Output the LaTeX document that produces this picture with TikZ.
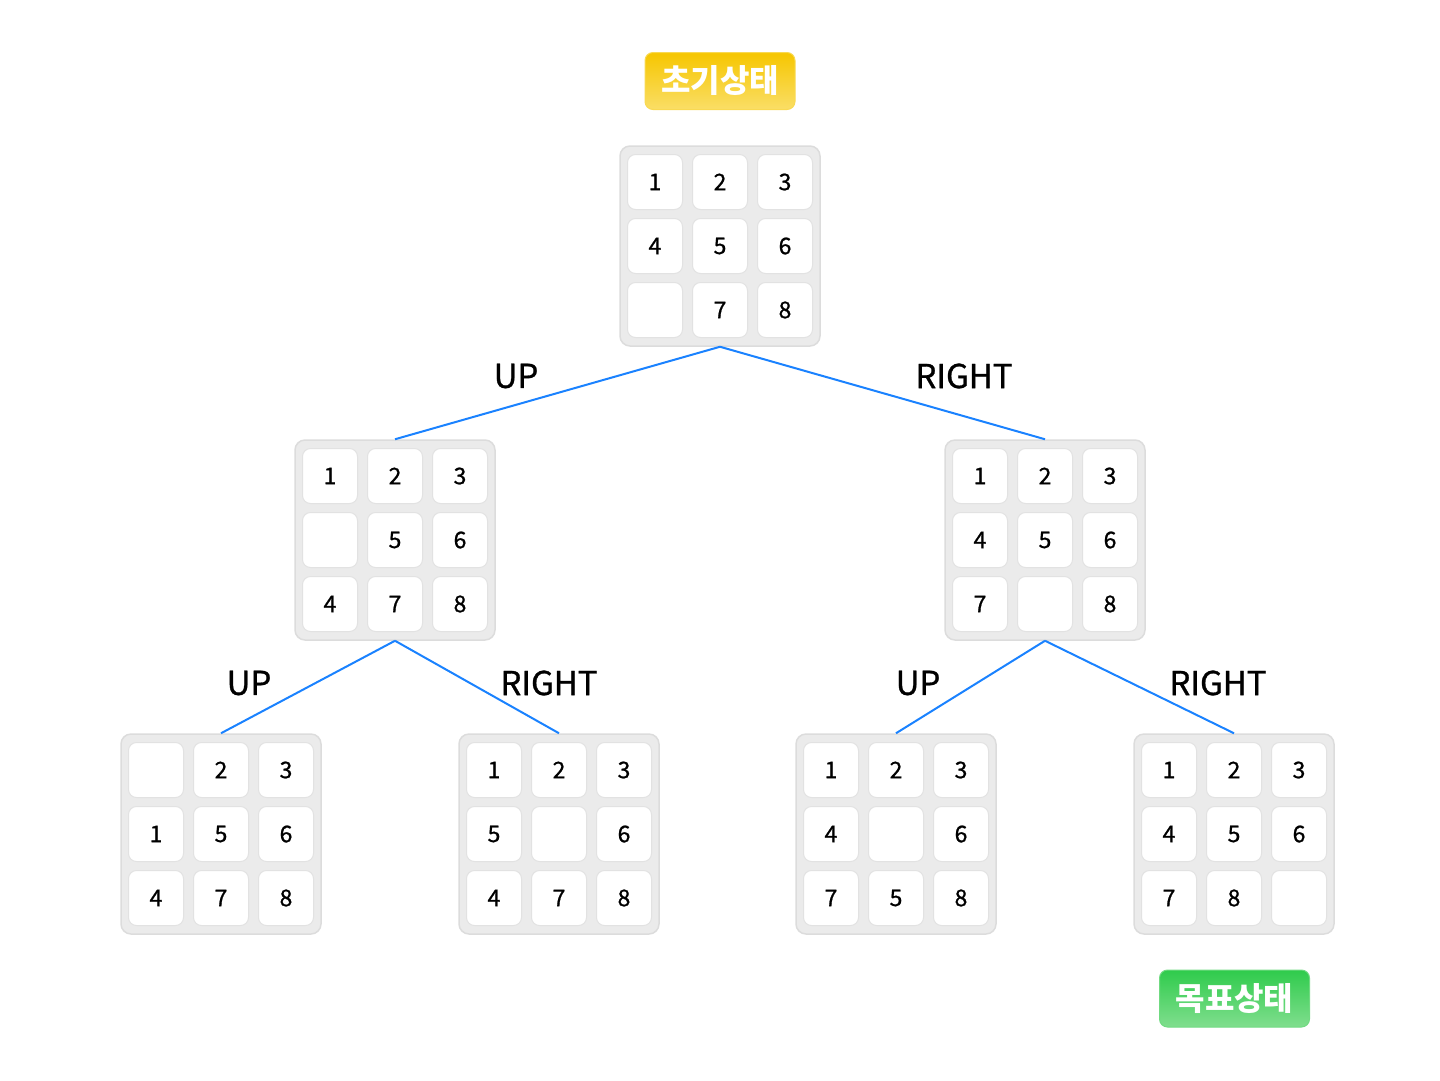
\documentclass[tikz,border=0pt]{standalone}
\usepackage{fontspec}
\setmainfont{Noto Sans CJK KR}
\newfontfamily\medfont{Noto Sans CJK KR}[FakeBold=0.9]
\usetikzlibrary{shadows}
\definecolor{boardfill}{HTML}{EBEBEB}
\definecolor{boardline}{HTML}{DCDCDC}
\definecolor{tileline}{HTML}{E2E2E2}
\definecolor{edgeblue}{HTML}{1A82FF}
\definecolor{ytop}{HTML}{F6C600}
\definecolor{ybot}{HTML}{FADE66}
\definecolor{gtop}{HTML}{2FCB4C}
\definecolor{gbot}{HTML}{80DE8E}
\tikzset{
  boardbox/.style={draw=boardline, line width=1.5pt, fill=boardfill, rounded corners=10pt,
    minimum width=200pt, minimum height=200pt, inner sep=0pt},
  tile/.style={draw=tileline, line width=1pt, fill=white, rounded corners=8pt,
    minimum width=55pt, minimum height=55pt, inner sep=0pt, text=black,
    font=\medfont\fontsize{23}{23}\selectfont},
  edge/.style={draw=edgeblue, line width=2pt},
  movelabel/.style={font=\medfont\fontsize{33}{33}\selectfont, text=black, inner sep=0pt},
  tag/.style={rounded corners=8pt, minimum width=150pt, minimum height=57pt, inner sep=0pt,
    text=white, font=\fontsize{32}{32}\selectfont\bfseries},
}
\newcommand{\puzzle}[4]{%
  \node[boardbox] (#1) at (#2,#3) {};
  \foreach \t [count=\i from 0] in {#4} {
    \pgfmathtruncatemacro\cc{mod(\i,3)}
    \pgfmathtruncatemacro\rr{div(\i,3)}
    \node[tile] (#1-\i) at (#2+\cc*65-65, #3+\rr*64-64) {\t};
  }%
}
\begin{document}
\begin{tikzpicture}[x=1pt, y=-1pt]
\useasboundingbox (0,0) rectangle (1440,1080);
% tags
\node[tag, shade, top color=ytop, bottom color=ybot, draw=ybot!80!ytop, line width=1pt] (start) at (720,81) {초기상태};
\node[tag, shade, top color=gtop, bottom color=gbot, draw=gbot!80!gtop, line width=1pt] (goal) at (1234.5,998.5) {목표상태};
% boards
\puzzle{b0}{720}{246}{1,2,3,4,5,6,{},7,8}
\puzzle{b1}{395}{540}{1,2,3,{},5,6,4,7,8}
\puzzle{b2}{1045}{540}{1,2,3,4,5,6,7,{},8}
\puzzle{b3}{221}{834}{{},2,3,1,5,6,4,7,8}
\puzzle{b4}{559}{834}{1,2,3,5,{},6,4,7,8}
\puzzle{b5}{896}{834}{1,2,3,4,{},6,7,5,8}
\puzzle{b6}{1234}{834}{1,2,3,4,5,6,7,8,{}}
% edges
\draw[edge] (b0.south) -- (b1.north);
\draw[edge] (b0.south) -- (b2.north);
\draw[edge] (b1.south) -- (b3.north);
\draw[edge] (b1.south) -- (b4.north);
\draw[edge] (b2.south) -- (b5.north);
\draw[edge] (b2.south) -- (b6.north);
% labels
\node[movelabel] (l1) at (516,376) {UP};
\node[movelabel] (l2) at (964,376) {RIGHT};
\node[movelabel] (l3) at (249,683) {UP};
\node[movelabel] (l4) at (549,683) {RIGHT};
\node[movelabel] (l5) at (918,683) {UP};
\node[movelabel] (l6) at (1218,683) {RIGHT};
\end{tikzpicture}
\end{document}
